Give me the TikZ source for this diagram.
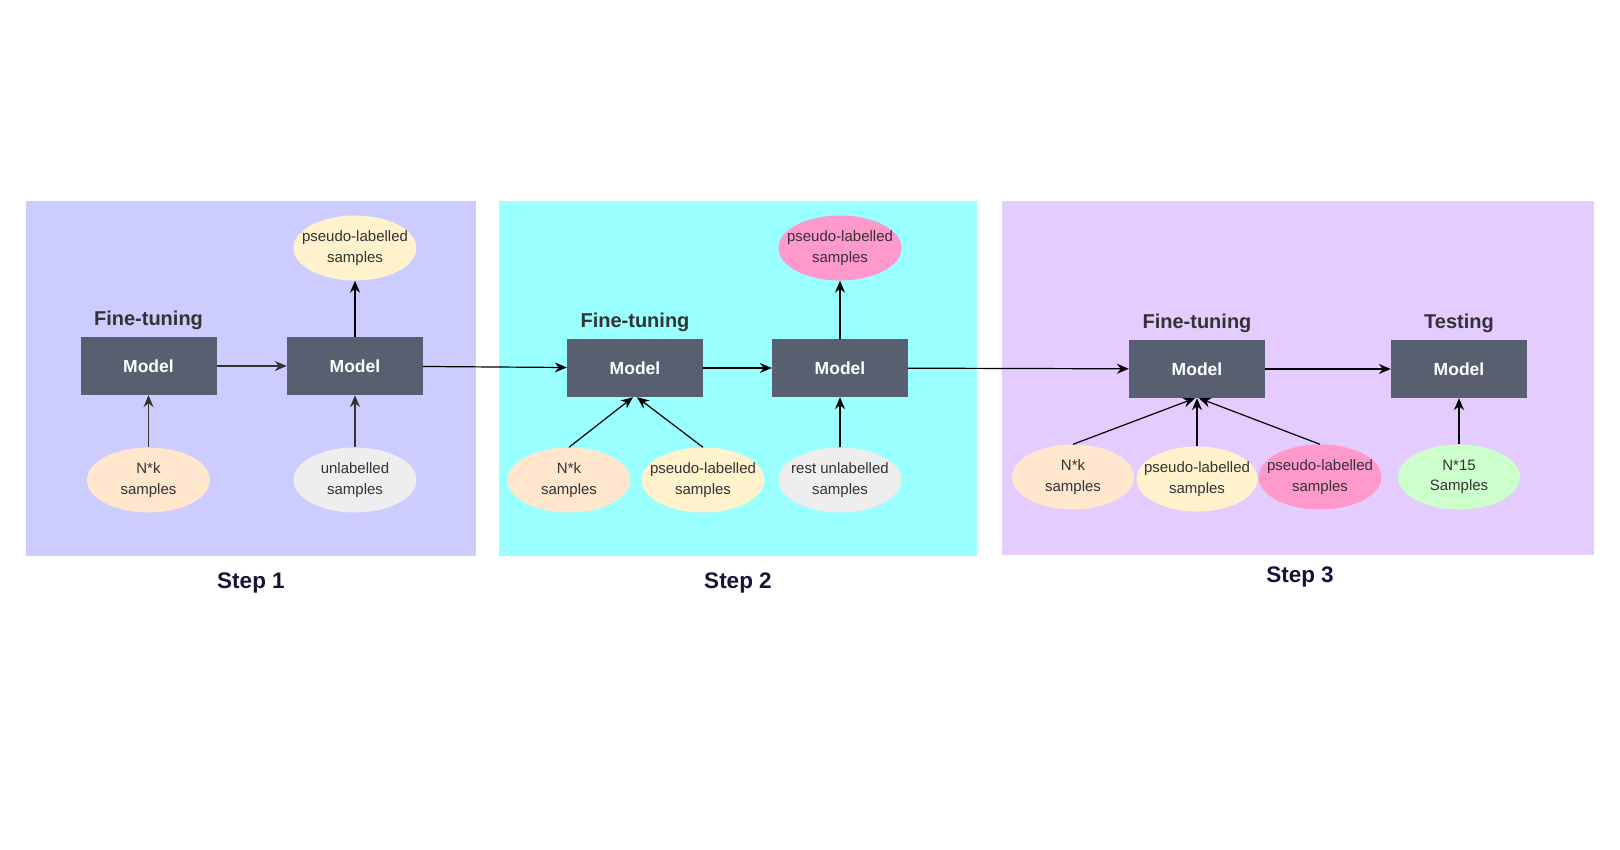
\documentclass[tikz,border=0pt]{standalone}
\usepackage{fontspec}
\setmainfont{Liberation Sans}
\usepackage{xcolor}
\usetikzlibrary{arrows.meta,positioning,shapes.geometric}

\definecolor{panelA}{HTML}{CCCCFF}
\definecolor{panelB}{HTML}{99FFFF}
\definecolor{panelC}{HTML}{E5CCFF}
\definecolor{modelfill}{HTML}{575F70}
\definecolor{peach}{HTML}{FFE6CC}
\definecolor{cream}{HTML}{FFF2CC}
\definecolor{greyish}{HTML}{EEEEEE}
\definecolor{pinkish}{HTML}{FF99CC}
\definecolor{mint}{HTML}{CCFFCC}
\definecolor{textgrey}{HTML}{333333}
\definecolor{stepnavy}{HTML}{141438}

\begin{document}
\begin{tikzpicture}[
  x=1pt,y=-1pt,
  panel/.style={draw=none,inner sep=0pt},
  model/.style={rectangle,fill=modelfill,text=white,minimum width=136pt,minimum height=58pt,inner sep=0pt,
    font=\fontsize{17.5}{20}\selectfont\bfseries},
  sample/.style={ellipse,minimum width=123pt,minimum height=65pt,inner xsep=-14pt,inner ysep=0pt,align=center,
    text=textgrey,font=\fontsize{15}{20.5}\selectfont},
  phase/.style={text=textgrey,font=\fontsize{20}{24}\selectfont\bfseries,inner sep=0pt},
  steplabel/.style={text=stepnavy,font=\fontsize{22.5}{26}\selectfont\bfseries,inner sep=0pt},
  arrow/.style={-{Stealth[length=12pt,width=10pt,inset=4pt]},line width=1.2pt,black},
  greyarrow/.style={arrow,textgrey}
]
\useasboundingbox (0,0) rectangle (1620,850);

\node[panel,fill=panelA,minimum width=450pt,minimum height=355pt] (bgA) at (251,378.5) {};
\node[panel,fill=panelB,minimum width=478pt,minimum height=355pt] (bgB) at (738,378.5) {};
\node[panel,fill=panelC,minimum width=592pt,minimum height=354pt] (bgC) at (1298,378) {};

\node[model] (mA1) at (148.5,366) {Model};
\node[model] (mA2) at (355,366) {Model};
\node[model] (mB1) at (635,368) {Model};
\node[model] (mB2) at (840,368) {Model};
\node[model] (mC1) at (1197,369) {Model};
\node[model] (mC2) at (1459,369) {Model};

\node[phase,above=7pt of mA1] (ftA) {Fine-tuning};
\node[phase,above=7pt of mB1] (ftB) {Fine-tuning};
\node[phase,above=7pt of mC1] (ftC) {Fine-tuning};
\node[phase,above=7pt of mC2] (test) {Testing};

\node[sample,fill=peach] (nkA) at (148.5,480) {N*k\\samples};
\node[sample,fill=greyish] (unlA) at (355,480) {unlabelled\\samples};
\node[sample,fill=cream] (psA) at (355,248) {pseudo-labelled\\samples};

\node[sample,fill=peach] (nkB) at (569,480) {N*k\\samples};
\node[sample,fill=cream] (psB) at (703,480) {pseudo-labelled\\samples};
\node[sample,fill=greyish] (restB) at (840,480) {rest unlabelled\\samples};
\node[sample,fill=pinkish] (pinkB) at (840,248) {pseudo-labelled\\samples};

\node[sample,fill=peach,minimum width=122pt] (nkC) at (1073,477) {N*k\\samples};
\node[sample,fill=cream,minimum width=121pt] (psC) at (1197,479) {pseudo-labelled\\samples};
\node[sample,fill=pinkish,minimum width=123pt] (pinkC) at (1320,477) {pseudo-labelled\\samples};
\node[sample,fill=mint,minimum width=122pt] (n15) at (1459,477) {N*15\\Samples};

\node[steplabel] (stepA) at (251,583) {Step 1};
\node[steplabel] (stepB) at (738,583) {Step 2};
\node[steplabel] (stepC) at (1300,577) {Step 3};

\draw[greyarrow] (nkA) -- (mA1);
\draw[greyarrow] (mA1) -- (mA2);
\draw[greyarrow] (unlA) -- (mA2);
\draw[arrow] (mA2) -- (psA);
\draw[arrow] (mA2) -- (mB1);
\draw[arrow] (nkB.north) -- ([xshift=-2pt]mB1.south);
\draw[arrow] (psB.north) -- ([xshift=2pt]mB1.south);
\draw[arrow] (mB1) -- (mB2);
\draw[arrow] (restB) -- (mB2);
\draw[arrow] (mB2) -- (pinkB);
\draw[arrow] (mB2) -- (mC1);
\draw[arrow] (nkC.north) -- ([xshift=-2pt]mC1.south);
\draw[arrow] (psC.north) -- (mC1.south);
\draw[arrow] (pinkC.north) -- ([xshift=2pt]mC1.south);
\draw[arrow] (mC1) -- (mC2);
\draw[arrow] (n15) -- (mC2);
\end{tikzpicture}
\end{document}
